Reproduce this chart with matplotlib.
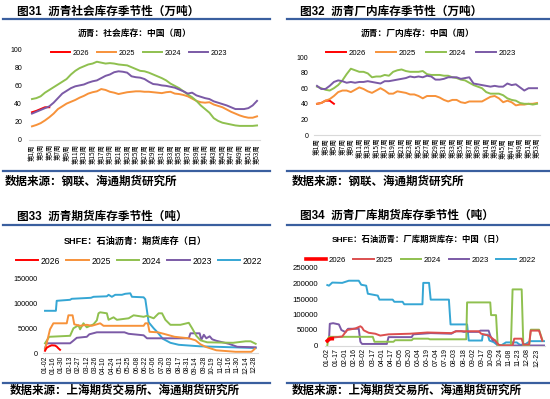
import numpy as np
import matplotlib
matplotlib.use("Agg")
import matplotlib.pyplot as plt
from matplotlib.lines import Line2D

plt.rcParams['font.family'] = ['Liberation Sans', 'Noto Sans CJK SC', 'DejaVu Sans']
plt.rcParams['axes.unicode_minus'] = False

# ---------------- 数据 ----------------
# 图31 社会库存（万吨），第1-53周
weeks = list(range(1, 54))
week_labels = [f"第{w}周" for w in range(1, 54, 2)]

soc_2026 = [30.5, 32, 34, 36, 36]
soc_2025 = [15, 16.5, 18.5, 21.5, 25, 29, 34, 37, 40, 42, 44, 46.5, 48.5, 51, 52.5, 53.5, 56, 55,
            53, 52, 50.5, 51.5, 52.5, 53, 53.5, 53.5, 53, 53, 52.5, 52, 51.5, 52.5, 53, 51, 50.5,
            49.5, 48, 45.5, 43, 41.5, 41, 41.5, 39, 37.5, 36, 33.5, 31, 29, 27, 25.5, 24.5, 24.5, 26]
soc_2024 = [45, 46, 48, 52, 55, 58, 61, 64, 67, 72, 76, 79, 81, 83, 84, 86, 85, 84, 84.5, 84,
            83, 82.5, 82, 80, 78, 76, 75.5, 74, 72, 70, 68, 65.5, 62, 59.5, 57, 53.5, 50, 47, 43,
            38, 34, 30, 24, 21, 19, 18, 17, 16, 15.5, 15.5, 15.5, 15.5, 16]
soc_2023 = [29, 31, 33, 35, 37, 41, 46, 51, 54, 57, 59, 60, 61, 63, 64.5, 65.5, 68, 70.5, 72,
            74.5, 75.5, 75, 74, 70, 69, 68.5, 67, 64, 61.5, 61, 60, 59.5, 58.5, 57.5, 55.5, 53.5,
            51, 52, 49, 47.5, 46, 45, 42.5, 41, 39.5, 38, 36, 34, 34, 34, 35, 38, 43]

# 图32 厂内库存（万吨）
fac_2026 = [40, 41, 44, 44, 40]
fac_2025 = [40, 41, 44, 46, 50, 55, 57, 57, 55, 58, 61, 59, 56, 54, 57, 60, 57, 53, 53, 56, 55,
            54, 52, 52, 50, 47, 50, 50, 50, 48, 45, 43, 45, 45, 42, 41, 43, 43, 43, 43, 46, 49,
            50, 47, 42, 44, 42, 38, 39, 39, 40, 40, 41]
fac_2024 = [62, 60, 58, 57, 60, 64, 70, 78, 85, 83, 81, 81, 79, 74, 75, 75, 77, 76, 81, 83, 84,
            82, 81, 81, 81, 82, 78, 77, 77, 77, 76, 76, 74, 73, 71, 70, 67, 64, 62, 60, 55, 53,
            53, 53, 51, 47, 45, 44, 41, 40, 40, 39, 40]
fac_2023 = [63, 59, 59, 63, 68, 70, 69, 67, 68, 67, 68, 68, 69, 68, 67, 66, 69, 69, 70, 71, 72,
            73, 75, 74, 75, 74, 76, 75, 71, 71, 72, 74, 74, 74, 72, 73, 74, 66, 65, 64, 63, 62,
            63, 62, 62, 66, 64, 65, 61, 57, 60, 60, 60]

# 图33 期货库存（吨），交易日序号
fut_labels = ["01-02", "01-16", "01-30", "02-13", "02-27", "03-12", "03-26", "04-10", "04-24",
              "05-11", "05-25", "06-08", "06-22", "07-06", "07-20", "08-03", "08-17", "08-31",
              "09-14", "09-28", "10-19", "11-02", "11-16", "11-30", "12-14", "12-28"]
fut26_x = [0, 2, 5, 8, 12, 14, 16, 18]
fut26_y = [5000, 11000, 14000, 16000, 15500, 13500, 10000, 7000]
fut25_x = [0, 2, 6, 10, 26, 28, 33, 35, 42, 50, 56, 62, 66, 70, 118, 120, 123, 125, 135, 142,
           155, 172, 180, 186, 192, 205, 228, 247, 251]
fut25_y = [8000, 20000, 48000, 60000, 60000, 76000, 76000, 58000, 55000, 57000, 55000, 58000,
           60000, 55000, 55000, 60000, 60000, 43000, 42000, 39000, 33000, 30000, 26000, 18000,
           13000, 6000, 3000, 3000, 9000]
fut24_x = [0, 5, 30, 34, 40, 42, 46, 50, 58, 62, 64, 66, 74, 76, 82, 86, 100, 106, 118, 122,
           130, 136, 140, 144, 150, 162, 172, 176, 181, 186, 194, 225, 240, 246, 252]
fut24_y = [20000, 33000, 35000, 50000, 56000, 48000, 60000, 52000, 58000, 66000, 80000, 82000,
           80000, 67000, 72000, 67000, 70000, 76000, 73000, 75000, 70000, 80000, 80000, 67000,
           57000, 57000, 61000, 50000, 35000, 26000, 22000, 21000, 24000, 24000, 19000]
fut23_x = [0, 2, 30, 33, 38, 50, 53, 62, 95, 100, 118, 122, 172, 174, 185, 187, 190, 193, 197,
           200, 205, 220, 230, 252]
fut23_y = [10000, 20000, 20000, 24000, 31000, 33000, 38000, 42000, 42000, 39000, 36000, 30000,
           30000, 40000, 40000, 27000, 37000, 30000, 34000, 28000, 25000, 19000, 13000, 12000]
fut22_x = [0, 13, 14, 30, 32, 55, 58, 74, 76, 80, 84, 92, 96, 102, 104, 118, 120, 124, 130, 134,
           141, 150, 160, 185, 225, 252]
fut22_y = [85000, 85000, 105000, 107000, 109000, 111000, 113000, 114000, 117000, 113000, 117000,
           117000, 119000, 120000, 113000, 112000, 108000, 62000, 50000, 43000, 29000, 21000,
           17000, 14000, 12000, 10500]

# 图34 厂库期货库存（吨）
whs_labels = ["01-02", "01-17", "02-01", "02-16", "03-02", "03-17", "04-01", "04-17", "05-05",
              "05-20", "06-04", "06-19", "07-04", "07-19", "08-03", "08-18", "09-02", "09-17",
              "10-09", "10-24", "11-08", "11-23", "12-08", "12-23"]
whs26_x = [0, 2, 4, 6]
whs26_y = [15000, 20000, 22000, 22000]
whs25_x = [0, 2, 5, 18, 24, 34, 40, 42, 44, 50, 58, 64, 74, 100, 121, 150, 156, 183, 186, 195,
           203, 207, 210, 224, 226, 235, 237, 244, 246, 256, 260]
whs25_y = [12000, 18000, 25000, 29000, 50000, 55000, 62000, 58000, 49000, 41000, 38000, 32000,
           36000, 38000, 42000, 40000, 46000, 46000, 38000, 32000, 16000, 3000, 0, 0, 22000,
           22000, 3000, 3000, 48000, 48000, 15000]
whs24_x = [0, 1, 2, 55, 57, 80, 82, 102, 104, 122, 124, 168, 169, 197, 198, 204, 206, 222, 224,
           235, 237, 244, 246, 256, 260]
whs24_y = [0, 22000, 28000, 28000, 12000, 12000, 17000, 17000, 22000, 22000, 20000, 20000,
           139000, 139000, 98000, 98000, 0, 0, 181000, 181000, 0, 0, 51000, 51000, 18000]
whs23_x = [0, 2, 3, 7, 14, 17, 22, 25, 38, 40, 42, 72, 74, 102, 104, 115, 125, 150, 155, 162,
           165, 183, 185, 195, 197, 200, 203, 206, 262]
whs23_y = [15000, 16000, 70000, 72000, 68000, 50000, 43000, 54000, 54000, 12000, 5000, 5000,
           27000, 27000, 36000, 38000, 40000, 38000, 46000, 46000, 44000, 44000, 48000, 48000,
           32000, 16000, 16000, 0, 0]
whs22_x = [0, 2, 6, 18, 26, 38, 41, 47, 49, 61, 63, 79, 81, 91, 93, 115, 116, 123, 125, 147,
           149, 169, 171, 187, 188, 194, 196, 201, 205, 210, 216, 229, 233, 240, 245, 262]
whs22_y = [195000, 193000, 203000, 202000, 209000, 209000, 196000, 193000, 167000, 161000,
           148000, 148000, 141000, 141000, 133000, 133000, 202000, 202000, 148000, 148000,
           68000, 68000, 16000, 16000, 35000, 35000, 16000, 11000, 3000, 0, 10000, 10000, 2000,
           5000, 14000, 14000]

# ---------------- 样式 ----------------
RED = '#ff0000'
ORANGE = '#f7923a'
GREEN = '#8fc04f'
PURPLE = '#7b5aa6'
CYAN = '#35a6d4'
RED25 = '#dc4f4f'
RULE = '#3a5f9f'
CJK = ['Noto Sans CJK SC', 'DejaVu Sans']

W, H = 550, 399
fig = plt.figure(figsize=(W / 100, H / 100), dpi=100)


def px_axes(left, top, right, bottom):
    return fig.add_axes([left / W, 1 - bottom / H, (right - left) / W, (bottom - top) / H])


def ftext(x, y, s, **kw):
    fig.text(x / W, 1 - y / H, s, **kw)


def rule(x0, x1, y):
    fig.add_artist(Line2D([x0 / W, x1 / W], [1 - y / H, 1 - y / H], color=RULE, lw=1.6))


def frame(x_title, y_title, title, x0, x1, y_top, y_bot, sub_x, sub_y, sub, sub_fs,
          src_x, src_y, src):
    ftext(x_title, y_title, title, fontsize=8.4, fontweight='bold', va='center', ha='left',
          family=['Liberation Sans', 'Noto Sans CJK SC'])
    rule(x0, x1, y_top)
    rule(x0, x1, y_bot)
    ftext(sub_x, sub_y, sub, fontsize=sub_fs, fontweight='bold', va='center', ha='center',
          family=['Liberation Sans', 'Noto Sans CJK SC'])
    ftext(src_x, src_y, src, fontsize=8.3, fontweight='bold', va='center', ha='left', family=CJK)


def style_axes(ax, ypad, xpad, yfs):
    for s in ['top', 'right', 'left']:
        ax.spines[s].set_visible(False)
    ax.spines['bottom'].set_color('#d9d9d9')
    ax.spines['bottom'].set_linewidth(0.8)
    ax.tick_params(axis='both', length=0)
    ax.tick_params(axis='y', pad=ypad, labelsize=yfs)
    ax.tick_params(axis='x', pad=xpad)


def put_legend(ax, handles, cx, cy, fs, colsp):
    ax.legend(handles=handles, loc='center', bbox_to_anchor=(cx / W, 1 - cy / H),
              bbox_transform=fig.transFigure, ncol=len(handles), frameon=False, fontsize=fs,
              handlelength=2.6, handletextpad=0.3, columnspacing=colsp, borderpad=0)


LW = 1.4

# ---------- 图31 ----------
frame(17, 12, "图31  沥青社会库存季节性（万吨）", 3, 270, 19, 171, 135, 33,
      "沥青：社会库存：中国（周）", 6.3, 5, 181, "数据来源：钢联、海通期货研究所")
ax1 = px_axes(29, 49, 260, 140)
l26, = ax1.plot(weeks[:len(soc_2026)], soc_2026, color=RED, lw=LW, label='2026')
l25, = ax1.plot(weeks, soc_2025, color=ORANGE, lw=LW, label='2025')
l24, = ax1.plot(weeks, soc_2024, color=GREEN, lw=LW, label='2024')
l23, = ax1.plot(weeks, soc_2023, color=PURPLE, lw=LW, label='2023')
ax1.set_xlim(0.31, 53.69)
ax1.set_ylim(0, 100)
ax1.set_yticks([0, 20, 40, 60, 80, 100])
ax1.set_xticks(list(range(1, 54, 2)))
ax1.set_xticklabels(week_labels, rotation=90, fontsize=4.6, family=CJK)
style_axes(ax1, 5, 3, 5)
put_legend(ax1, [l26, l25, l24, l23], 139, 53, 5.3, 1.1)

# ---------- 图32 ----------
frame(300, 12, "图32  沥青厂内库存季节性（万吨）", 287, 550, 19, 171, 418, 33,
      "沥青：厂内库存：中国（周）", 6.3, 292, 181, "数据来源：钢联、海通期货研究所")
ax2 = px_axes(314, 57, 540, 135)
m26, = ax2.plot(weeks[:len(fac_2026)], fac_2026, color=RED, lw=LW, label='2026')
m25, = ax2.plot(weeks, fac_2025, color=ORANGE, lw=LW, label='2025')
m24, = ax2.plot(weeks, fac_2024, color=GREEN, lw=LW, label='2024')
m23, = ax2.plot(weeks, fac_2023, color=PURPLE, lw=LW, label='2023')
ax2.set_xlim(0.29, 53.71)
ax2.set_ylim(0, 100)
ax2.set_yticks([0, 20, 40, 60, 80, 100])
ax2.set_xticks(list(range(1, 54, 2)))
ax2.set_xticklabels(week_labels, rotation=90, fontsize=4.8, family=CJK)
style_axes(ax2, 4, 2, 5)
put_legend(ax2, [m26, m25, m24, m23], 421, 53, 5.6, 1.3)

# ---------- 图33 ----------
frame(17, 217, "图33  沥青期货库存季节性（吨）", 3, 270, 225, 383, 135, 241,
      "SHFE：石油沥青：期货库存（日）", 6.6, 10, 390, "数据来源：上海期货交易所、海通期货研究所")
ax3 = px_axes(43, 278.3, 258, 353.3)
n22, = ax3.plot(fut22_x, fut22_y, color=CYAN, lw=LW, label='2022')
n23, = ax3.plot(fut23_x, fut23_y, color=PURPLE, lw=LW, label='2023')
n24, = ax3.plot(fut24_x, fut24_y, color=GREEN, lw=LW, label='2024')
n25, = ax3.plot(fut25_x, fut25_y, color=ORANGE, lw=LW, label='2025')
n26, = ax3.plot(fut26_x, fut26_y, color=RED, lw=LW, label='2026')
ax3.set_xlim(-2.4, 254.8)
ax3.set_ylim(0, 150000)
ax3.set_yticks([0, 50000, 100000, 150000])
ax3.set_xticks(list(range(0, 10 * len(fut_labels), 10)))
ax3.set_xticklabels(fut_labels, rotation=90, fontsize=4.9)
style_axes(ax3, 4, 2, 5.2)
put_legend(ax3, [n26, n25, n24, n23, n22], 139, 261, 6.2, 0.7)

# ---------- 图34 ----------
frame(300, 216, "图34  沥青厂库期货库存季节性（吨）", 287, 550, 225, 383, 418, 240,
      "SHFE：石油沥青：厂库期货库存：中国（日）", 6.0, 292, 390,
      "数据来源：上海期货交易所、海通期货研究所")
ax4 = px_axes(325, 268, 545, 345.5)
p22, = ax4.plot(whs22_x, whs22_y, color=CYAN, lw=LW, label='2022')
p23, = ax4.plot(whs23_x, whs23_y, color=PURPLE, lw=LW, label='2023')
p24, = ax4.plot(whs24_x, whs24_y, color=GREEN, lw=LW, label='2024')
p25, = ax4.plot(whs25_x, whs25_y, color=RED25, lw=LW, label='2025')
p26, = ax4.plot(whs26_x, whs26_y, color=RED, lw=2.6, label='2026')
ax4.set_xlim(-2.8, 263.2)
ax4.set_ylim(0, 250000)
ax4.set_yticks([0, 50000, 100000, 150000, 200000, 250000])
ax4.set_xticks(list(range(0, 11 * len(whs_labels), 11)))
ax4.set_xticklabels(whs_labels, rotation=90, fontsize=5)
style_axes(ax4, 5, 2, 5.6)
put_legend(ax4, [p26, p25, p24, p23, p22], 421, 260, 5.6, 1.0)

fig.savefig("out.png", dpi=100)
